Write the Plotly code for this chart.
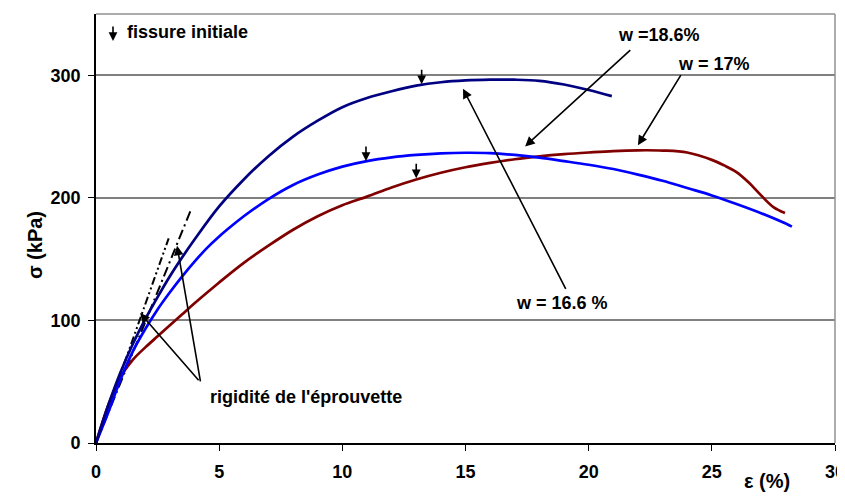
import plotly.graph_objects as go

# w = 16.6 % (navy)
eps_166 = [0, 0.5, 1, 1.5, 2, 2.5, 3, 3.5, 4, 5, 6, 7, 8, 9, 10, 11, 12, 13, 14,
           15, 16, 17, 18, 19, 20, 20.94]
sig_166 = [0, 31, 58, 81, 101, 119, 136, 151.5, 166, 193, 215, 234, 250, 263, 274,
           281.5, 287, 291.5, 294.3, 295.8, 296.4, 296.4, 295.5, 292.5, 288, 283]

# w = 18.6 % (blue)
eps_186 = [0, 0.5, 1, 1.5, 2, 2.5, 3, 3.5, 4, 4.5, 5, 5.5, 6, 7, 8, 9, 10, 11, 12,
           13, 14, 15, 16, 17, 18, 19, 20, 21, 22, 23, 24, 25, 26, 27, 28, 28.25]
sig_186 = [0, 25, 52, 75, 93, 109, 123, 136, 148, 159, 168.5, 177, 185, 199, 210.5,
           219, 225.5, 230, 233, 235, 236.3, 236.8, 236.5, 235, 232.8, 230, 227,
           223.5, 219, 214, 208, 202, 195, 187.5, 179, 176.5]

# w = 17 % (dark red)
eps_17 = [0, 0.5, 1, 1.5, 2, 2.5, 3, 3.5, 4, 5, 6, 7, 8, 9, 10, 11, 12, 13, 14, 15,
          16, 17, 18, 19, 20, 21, 22, 23, 24, 25, 25.5, 26, 26.5, 27, 27.5, 27.97]
sig_17 = [0, 31, 54, 68, 78, 87, 96, 105, 114, 131, 147, 161, 174, 185, 194, 201,
          208.5, 215, 220.5, 225, 228.5, 231.5, 233.8, 235.6, 237, 238.2, 238.8,
          238.6, 237, 231, 226.5, 221, 212.5, 202, 192.5, 187.7]

# rigidity lines (start, end)
rig_a_eps = [0, 3.85]
rig_a_sig = [0, 190]
rig_b_eps = [0, 2.95]
rig_b_sig = [0, 167]

# initial crack markers
crack_eps = [13.22, 10.96, 13.0]
crack_sig = [292.6, 230, 216]

x_ticks = [0, 5, 10, 15, 20, 25, 30]
y_ticks = [0, 100, 200, 300]

FONT = dict(family="Liberation Sans, Arial", size=18, color="black", weight="bold")

fig = go.Figure()

fig.add_trace(go.Scatter(x=rig_a_eps, y=rig_a_sig, mode="lines",
                         line=dict(color="black", width=2, dash="10px,4px,2px,4px")))
fig.add_trace(go.Scatter(x=rig_b_eps, y=rig_b_sig, mode="lines",
                         line=dict(color="black", width=2, dash="8px,3px,2px,3px,2px,3px")))

fig.add_trace(go.Scatter(x=eps_17, y=sig_17, mode="lines",
                         line=dict(color="#800000", width=2.7, shape="spline")))
fig.add_trace(go.Scatter(x=eps_186, y=sig_186, mode="lines",
                         line=dict(color="#0000FF", width=2.7, shape="spline")))
fig.add_trace(go.Scatter(x=eps_166, y=sig_166, mode="lines",
                         line=dict(color="#000080", width=2.7, shape="spline")))

ann = []

# crack arrows
for xe, ys in zip(crack_eps, crack_sig):
    ann.append(dict(x=xe, y=ys, ax=0, ay=-16, text="", showarrow=True,
                    arrowhead=2, arrowsize=1.1, arrowwidth=1.6, arrowcolor="black"))
# legend arrow
ann.append(dict(x=0.69, y=328, ax=0, ay=-16, text="", showarrow=True,
                arrowhead=2, arrowsize=1.1, arrowwidth=1.6, arrowcolor="black"))
ann.append(dict(x=1.18, y=335, text="fissure initiale", showarrow=False,
                xanchor="left", font=FONT))

# labelled arrows (tip, tail)
arrows = [
    ((14.9, 289), (19.1, 124.6)),
    ((17.42, 242), (21.75, 321.7)),
    ((22.0, 243), (23.78, 301.3)),
    ((1.79, 106), (4.22, 50)),
    ((3.29, 161), (4.25, 49)),
]
for (tx, ty), (sx, sy) in arrows:
    ann.append(dict(x=tx, y=ty, ax=sx, ay=sy, axref="x", ayref="y", text="",
                    showarrow=True, arrowhead=2, arrowsize=1.2, arrowwidth=1.6,
                    arrowcolor="black"))

ann.append(dict(x=22.86, y=332.5, text="w =18.6%", showarrow=False, font=FONT))
ann.append(dict(x=25.09, y=309, text="w = 17%", showarrow=False, font=FONT))
ann.append(dict(x=18.92, y=114, text="w = 16.6 %", showarrow=False, font=FONT))
ann.append(dict(x=4.55, y=37.5, text="rigidité de l'éprouvette", showarrow=False,
                xanchor="left", font=FONT))

# axis titles
ann.append(dict(xref="paper", yref="paper", x=-0.1, y=0.4615, text="σ (kPa)",
                textangle=-90, showarrow=False, font=dict(FONT, size=20)))
ann.append(dict(xref="paper", yref="paper", x=0.942, y=-0.119, text="ε (%)",
                showarrow=False, font=dict(FONT, size=20)))

# the page body adds an 8px offset, so the figure is sized to fit inside the window
fig.update_layout(
    width=837, height=496,
    margin=dict(l=88, r=10, t=6, b=61),
    plot_bgcolor="white", paper_bgcolor="white",
    showlegend=False,
    font=FONT,
    annotations=ann,
    shapes=[
        dict(type="line", xref="paper", yref="paper", x0=0, x1=1, y0=1, y1=1,
             line=dict(color="#909090", width=1.5)),
        dict(type="line", xref="paper", yref="paper", x0=1, x1=1, y0=0, y1=1,
             line=dict(color="#909090", width=1.5)),
    ],
    xaxis=dict(range=[0, 30], tickvals=x_ticks, showgrid=False, zeroline=False,
               showline=True, linecolor="black", linewidth=1.6, automargin=False,
               ticks="outside", ticklen=6, tickwidth=1.4, tickcolor="black",
               tickfont=FONT, ticklabelstandoff=6, ticklabeloverflow="allow"),
    yaxis=dict(range=[0, 350], tickvals=y_ticks, showgrid=True, gridcolor="#808080",
               gridwidth=1.5, zeroline=False, automargin=False,
               showline=True, linecolor="black", linewidth=1.6,
               ticks="outside", ticklen=6, tickwidth=1.4, tickcolor="black",
               tickfont=FONT, ticklabelstandoff=4),
)

fig.write_html("out.html")
